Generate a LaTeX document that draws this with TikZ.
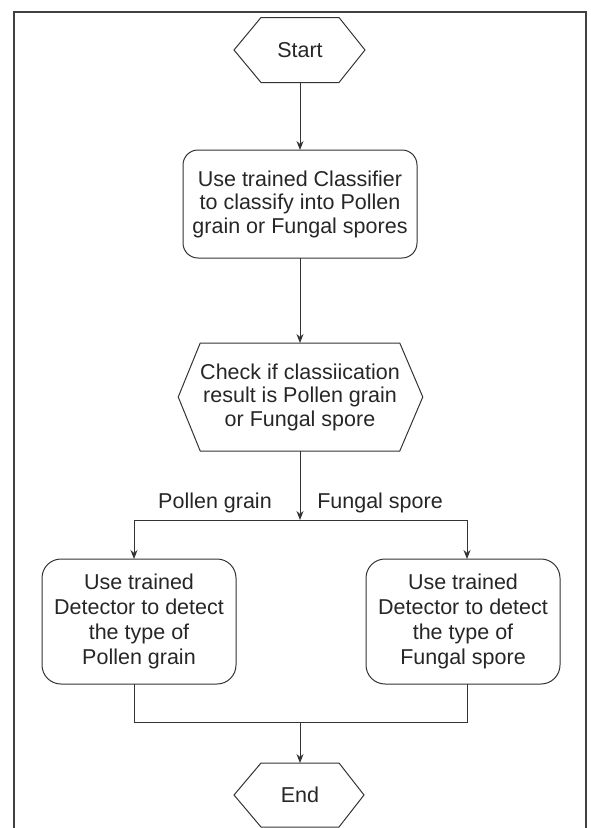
\documentclass[tikz,border=0pt]{standalone}
\usepackage{fontspec}
\setmainfont{Liberation Sans}
\usetikzlibrary{calc,arrows.meta,positioning}

% hexagon round a plain node: name, left point, right point
\newcommand{\hexframe}[3]{%
  \draw [flow] (#1.north west) -- (#1.north east) -- ($(#1.east)+(#3,0)$)
    -- (#1.south east) -- (#1.south west) -- ($(#1.west)-(#2,0)$) -- cycle;}

\begin{document}
\begin{tikzpicture}[x=1pt,y=-1pt,
    flow/.style={draw=black!80, line width=1pt},
    txt/.style={font=\fontsize{21.5}{23.5}\selectfont, text=black!85, align=center,
      inner sep=0pt, outer sep=0pt},
    hexbox/.style={txt},
    roundbox/.style={txt, draw=black!80, line width=1pt, rounded corners=15pt},
    detbox/.style={roundbox, font=\fontsize{21.5}{25}\selectfont, rounded corners=19pt,
      minimum width=194pt, minimum height=125pt},
    arr/.style={flow, -{Stealth[length=9pt,width=7pt]}}]

  \useasboundingbox (0,0) rectangle (591,828);
  % frame
  \draw [line width=1.5pt, black!75] (14,828) -- (14,12) -- (586,12) -- (586,828);

  \node [hexbox, minimum width=78pt, minimum height=65pt] (start) at (300,50) {Start};
  \node [roundbox, minimum width=234pt, minimum height=108pt] (classify) at (300,204)
    {Use trained Classifier\\to classify into Pollen\\grain or Fungal spores};
  \node [hexbox, minimum width=198pt, minimum height=108pt] (check) at (300,397)
    {Check if classiication\\result is Pollen grain\\or Fungal spore};
  \node [detbox] (pollen) at (139,621.5)
    {Use trained\\Detector to detect\\the type of\\Pollen grain};
  \node [detbox] (fungal) at (463,621.5)
    {Use trained\\Detector to detect\\the type of\\Fungal spore};
  \node [hexbox, minimum width=78pt, minimum height=64pt] (finish) at (300,795) {End};

  \hexframe{start}{27}{26}
  \hexframe{check}{22}{23}
  \hexframe{finish}{27}{25}

  \node [txt] (lblpollen) at (215,503) {Pollen grain};
  \node [txt] (lblfungal) at (380,503) {Fungal spore};

  \coordinate (split) at (300,520);
  \coordinate (pl) at (134,520);
  \coordinate (fl) at (467,520);
  \coordinate (merge) at (300,722);

  \draw [arr] (start.south) -- (classify.north);
  \draw [arr] (classify.south) -- (check.north);
  \draw [arr] (check.south) -- (split);
  \draw [flow] (pl) -- (fl);
  \draw [arr] (pl) -- (pl |- pollen.north);
  \draw [arr] (fl) -- (fl |- fungal.north);
  \draw [flow] (pl |- pollen.south) -- (pl |- merge) -- (fl |- merge) -- (fl |- fungal.south);
  \draw [arr] (merge) -- (finish.north);
\end{tikzpicture}
\end{document}
